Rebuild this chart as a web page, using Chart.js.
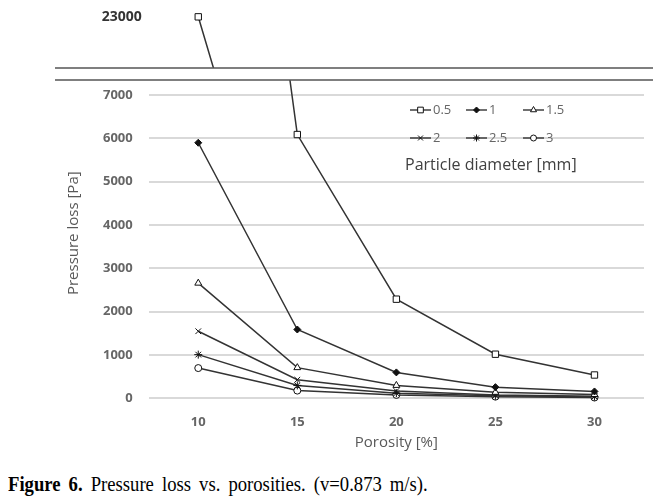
<!DOCTYPE html>
<html>
<head>
<meta charset="utf-8">
<script src="https://cdn.jsdelivr.net/npm/chart.js@4"></script>
<style>
  body { margin: 0; background: #fff; }
  #wrap { position: relative; width: 672px; height: 462px; }
  #caption {
    position: absolute; left: 8px; top: 471px;
    font-family: "Liberation Serif", "Times New Roman", serif;
    font-size: 22px; color: #000; white-space: nowrap; word-spacing: 4px;
    transform-origin: left top;
  }
</style>
</head>
<body>
<div id="wrap"><canvas id="lossChart"></canvas></div>
<div id="caption"><b>Figure 6.</b> Pressure loss vs. porosities. (v=0.873 m/s).</div>
<script>
// porosity [%] on x, pressure loss [Pa] per particle diameter [mm]
const porosity = ['10', '15', '20', '25', '30'];
const diameters = ['0.5', '1', '1.5', '2', '2.5', '3'];
const loss05 = [23000, 6090, 2290, 1020, 540];
const loss1 = [5900, 1590, 600, 260, 160];
const loss15 = [2660, 710, 300, 140, 90];
const loss2 = [1550, 430, 170, 80, 50];
const loss25 = [1010, 300, 120, 60, 40];
const loss3 = [700, 180, 80, 40, 20];
const yTicks = [0, 1000, 2000, 3000, 4000, 5000, 6000, 7000];
const topTicks = [23000];

const series = [loss05, loss1, loss15, loss2, loss25, loss3];
const markers = ['rect', 'rectRot', 'triangle', 'crossRot', 'star', 'circle'];
const filled = [false, true, false, false, true, false];
const radii = [4.5, 3.5, 4, 4, 4, 3.5];

function lineSet(i, axis) {
  return {
    label: diameters[i],
    data: series[i],
    yAxisID: axis,
    borderColor: '#333',
    borderWidth: 1.5,
    pointStyle: markers[i],
    pointRadius: radii[i],
    pointBorderWidth: 1,
    pointBorderColor: '#111',
    pointBackgroundColor: filled[i] ? '#111' : '#fff',
    clip: false,
    tension: 0
  };
}

const datasets = diameters.map((d, i) => lineSet(i, 'y'));
// the 23000 point above the axis break
datasets.push(Object.assign(lineSet(0, 'yTop'), { label: 'top' }));

// clip the two panels of the broken axis
const breakAxis = {
  id: 'breakAxis',
  beforeDatasetDraw(chart, args) {
    const ctx = chart.ctx;
    const top = chart.scales.yTop;
    ctx.save();
    ctx.beginPath();
    if (args.meta.yAxisID === 'yTop') {
      ctx.rect(0, 0, chart.width, top.bottom);
    } else {
      ctx.rect(0, top.bottom + 12, chart.width, chart.height);
    }
    ctx.clip();
  },
  afterDatasetDraw(chart) {
    chart.ctx.restore();
  },
  afterDatasetsDraw(chart) {
    const ctx = chart.ctx;
    const y0 = Math.round(chart.scales.yTop.bottom);
    ctx.save();
    ctx.fillStyle = '#fff';
    ctx.fillRect(0, y0, chart.width, 12);
    ctx.strokeStyle = '#555';
    ctx.lineWidth = 1.5;
    ctx.beginPath();
    ctx.moveTo(55, y0); ctx.lineTo(653, y0);
    ctx.moveTo(55, y0 + 12); ctx.lineTo(653, y0 + 12);
    ctx.stroke();
    ctx.restore();
  }
};

// legend inside the plot: 3 columns x 2 rows, caption underneath
const plotLegend = {
  id: 'plotLegend',
  afterDraw(chart) {
    const ctx = chart.ctx;
    const cols = [410, 466, 523];
    const rows = [110, 138];
    ctx.save();
    diameters.forEach((d, i) => {
      const x = cols[i % 3], y = rows[Math.floor(i / 3)];
      ctx.strokeStyle = '#333';
      ctx.lineWidth = 1.4;
      ctx.beginPath();
      ctx.moveTo(x, y); ctx.lineTo(x + 21, y);
      ctx.stroke();
      ctx.strokeStyle = '#111';
      ctx.fillStyle = filled[i] ? '#111' : '#fff';
      ctx.lineWidth = 1;
      Chart.helpers.drawPoint(ctx, { pointStyle: markers[i], radius: radii[i] - 0.5, rotation: 0, borderWidth: 1 }, x + 10.5, y);
      ctx.fillStyle = '#666';
      ctx.font = '13px "Open Sans"';
      ctx.textBaseline = 'middle';
      ctx.textAlign = 'left';
      ctx.fillText(d, x + 23, y);
    });
    ctx.fillStyle = '#404040';
    ctx.font = '16px "Open Sans"';
    ctx.textBaseline = 'middle';
    ctx.fillText('Particle diameter [mm]', 405, 165);
    ctx.restore();
  }
};

// keep tick-label padding from pushing the plot down
const noEdgePadding = s => { s.paddingTop = 0; s.paddingBottom = 0; };

new Chart(document.getElementById('lossChart'), {
  type: 'line',
  data: { labels: porosity, datasets: datasets },
  plugins: [breakAxis, plotLegend],
  options: {
    responsive: true,
    maintainAspectRatio: false,
    animation: false,
    layout: { autoPadding: false, padding: { top: 6, left: 61, right: 28, bottom: 6 } },
    plugins: { legend: { display: false }, tooltip: { enabled: false } },
    scales: {
      x: {
        offset: true,
        grid: { display: false, drawTicks: false },
        border: { display: false },
        ticks: { color: '#666', padding: 16, font: { family: 'Open Sans', size: 13, weight: 'bold' } },
        title: {
          display: true, text: 'Porosity [%]', color: '#595959',
          font: { family: 'Open Sans', size: 15 }, padding: { top: -12, bottom: 4 }
        }
      },
      y: {
        position: 'left',
        stack: 'pressure',
        stackWeight: 330,
        min: 0,
        max: 7624,
        afterBuildTicks: s => { s.ticks = yTicks.map(v => ({ value: v })); },
        afterFit: noEdgePadding,
        grid: { color: '#d9d9d9', lineWidth: 2, drawTicks: false },
        border: { display: false },
        ticks: {
          color: '#666', padding: 16, callback: v => String(v),
          font: { family: 'Open Sans', size: 13, weight: 'bold' }
        },
        title: {
          display: true, text: 'Pressure loss [Pa]', color: '#595959',
          font: { family: 'Open Sans', size: 15 }, padding: { top: 4, bottom: 4 }
        }
      },
      yTop: {
        position: 'left',
        stack: 'pressure',
        stackWeight: 62,
        min: 20400,
        max: 23550,
        afterBuildTicks: s => { s.ticks = topTicks.map(v => ({ value: v })); },
        afterFit: noEdgePadding,
        grid: { display: false, drawTicks: false },
        border: { display: false },
        ticks: {
          color: '#333', padding: 7, callback: v => String(v),
          font: { family: 'Open Sans', size: 14, weight: 'bold' }
        }
      }
    }
  }
});

// squeeze the caption to the width it has in the figure
const cap = document.getElementById('caption');
cap.style.transform = 'scaleX(' + (420 / cap.offsetWidth) + ')';
</script>
</body>
</html>
